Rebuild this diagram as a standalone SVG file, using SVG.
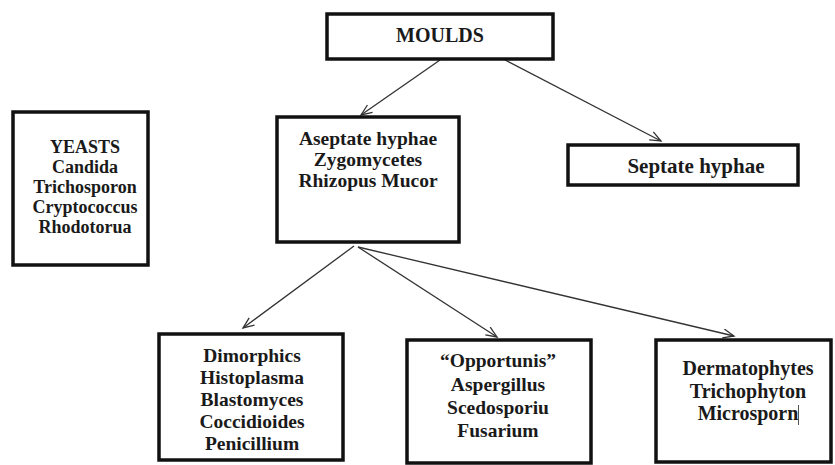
<svg xmlns="http://www.w3.org/2000/svg" width="835" height="465" viewBox="0 0 835 465">
<style>
.box{fill:#fff;stroke:#111;stroke-width:3.5}
.t{font-family:'Liberation Serif','Times New Roman',serif;font-weight:bold;font-size:19.5px;fill:#1a1a1a;text-anchor:middle}
.s18{font-size:18px}
.s20{font-size:20px}
.s21{font-size:21px}
.c{stroke:#333;stroke-width:1.3;fill:none;marker-end:url(#ah)}
</style>
<defs>
<marker id="ah" markerUnits="userSpaceOnUse" markerWidth="14" markerHeight="12" refX="12" refY="5" orient="auto">
<path d="M1,0.5 L12,5 L1,9.5" fill="none" stroke="#333" stroke-width="1.3"/>
</marker>
</defs>
<rect width="835" height="465" fill="#fff"/>
<g id="connectors">
<line class="c" x1="440" y1="60" x2="361" y2="115"/>
<line class="c" x1="505" y1="60" x2="661" y2="141"/>
<line class="c" x1="354" y1="246" x2="243" y2="328"/>
<line class="c" x1="358" y1="247" x2="497" y2="337"/>
<line class="c" x1="358" y1="247" x2="734" y2="336"/>
</g>
<g id="moulds">
<rect class="box" x="327" y="14" width="226" height="45"/>
<text class="t s20" x="440" y="42">MOULDS</text>
</g>
<g id="yeasts">
<rect class="box" x="13" y="112" width="135" height="153"/>
<text class="t s18" x="85" y="153">YEASTS</text>
<text class="t s18" x="85" y="173">Candida</text>
<text class="t s18" x="85" y="193">Trichosporon</text>
<text class="t s18" x="85" y="213">Cryptococcus</text>
<text class="t s18" x="85" y="233">Rhodotorua</text>
</g>
<g id="aseptate">
<rect class="box" x="277" y="117" width="182" height="125"/>
<text class="t" x="368" y="145">Aseptate hyphae</text>
<text class="t" x="368" y="166">Zygomycetes</text>
<text class="t" x="368" y="187">Rhizopus Mucor</text>
</g>
<g id="septate">
<rect class="box" x="568" y="145" width="230" height="40"/>
<text class="t s21" x="696" y="173">Septate hyphae</text>
</g>
<g id="dimorphics">
<rect class="box" x="159" y="334" width="184" height="126"/>
<text class="t" x="252" y="362">Dimorphics</text>
<text class="t" x="252" y="384">Histoplasma</text>
<text class="t" x="252" y="406">Blastomyces</text>
<text class="t" x="252" y="428">Coccidioides</text>
<text class="t" x="252" y="450">Penicillium</text>
</g>
<g id="opportunis">
<rect class="box" x="407" y="340" width="184" height="123"/>
<text class="t" x="498" y="367">“Opportunis”</text>
<text class="t" x="498" y="391">Aspergillus</text>
<text class="t" x="498" y="414">Scedosporiu</text>
<text class="t" x="498" y="437">Fusarium</text>
</g>
<g id="dermatophytes">
<rect class="box" x="656" y="340" width="175" height="122"/>
<text class="t s20" x="748" y="375">Dermatophytes</text>
<text class="t s20" x="748" y="398">Trichophyton</text>
<text class="t s20" x="748" y="420">Microsporn</text>
<line x1="798.5" y1="405" x2="798.5" y2="425" stroke="#555" stroke-width="1"/>
</g>
</svg>
